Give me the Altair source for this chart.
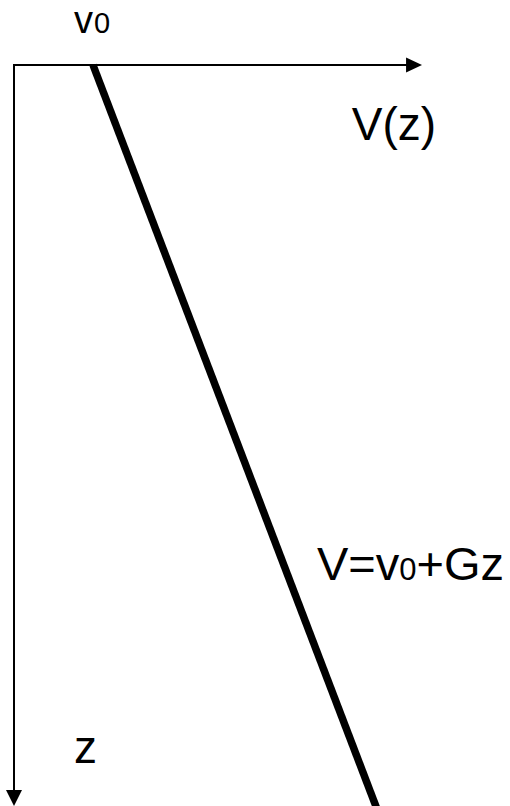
import altair as alt
import pandas as pd

# Linear velocity-depth model: V(z) = v0 + G*z
v0 = [1.0]
gradient = [0.358]
z_line = [0.0, 10.3]      # depth range of the gradient line
v_axis_end = [5.165]      # length of the velocity (V) axis
z_axis_end = [10.0]       # length of the depth (z) axis
z_formula = [7.0]         # depth at which the formula is written

# Canvas layout in pixels
W, H = 510, 806
ORIGIN_X, ORIGIN_Y = 14, 65
PX_PER_V, PX_PER_Z = 79.0, 74.1
ARROW_PX = 16
FONT = "Liberation Sans"

x_scale = alt.Scale(domain=[-ORIGIN_X / PX_PER_V, (W - ORIGIN_X) / PX_PER_V],
                    range=[0, W], nice=False, zero=False)
z_scale = alt.Scale(domain=[-ORIGIN_Y / PX_PER_Z, (H - ORIGIN_Y) / PX_PER_Z],
                    range=[0, H], nice=False, zero=False)

def X(field="V"):
    return alt.X(f"{field}:Q", scale=x_scale, axis=None)

def Z(field="z"):
    return alt.Y(f"{field}:Q", scale=z_scale, axis=None)

# Gradient line
line_df = pd.DataFrame({"z": z_line})
line_df["V"] = v0[0] + gradient[0] * line_df["z"]
line = alt.Chart(line_df).mark_line(
    color="black", strokeWidth=7.5, strokeCap="butt", clip=True
).encode(x=X(), y=Z())

# Coordinate axes (shafts stop at the arrowhead bases)
axes_df = pd.DataFrame({
    "V": [0.0, 0.0],
    "V2": [v_axis_end[0] - ARROW_PX / PX_PER_V, 0.0],
    "z": [0.0, 0.0],
    "z2": [0.0, z_axis_end[0] - ARROW_PX / PX_PER_Z],
})
axes = alt.Chart(axes_df).mark_rule(
    color="black", strokeWidth=2, strokeCap="square"
).encode(x=X(), x2="V2:Q", y=Z(), y2="z2:Q")

# Arrowheads, tips at the axis ends
right_tip = alt.Chart(pd.DataFrame({"V": v_axis_end, "z": [0.0]})).mark_point(
    shape="M0,0L-1,-0.47L-1,0.47Z", size=(2 * ARROW_PX) ** 2,
    filled=True, color="black", opacity=1, strokeWidth=0
).encode(x=X(), y=Z())
down_tip = alt.Chart(pd.DataFrame({"V": [0.0], "z": z_axis_end})).mark_point(
    shape="M0,0L-0.5,-1L0.5,-1Z", size=(2 * ARROW_PX) ** 2,
    filled=True, color="black", opacity=1, strokeWidth=0
).encode(x=X(), y=Z())

def label(df, text, size, align="left", dx=0, dy=0):
    return alt.Chart(df).mark_text(
        text=text, font=FONT, fontSize=size, color="black",
        align=align, baseline="alphabetic", dx=dx, dy=dy
    ).encode(x=X(), y=Z())

# "v0" above the intercept
top_df = pd.DataFrame({"V": v0, "z": [0.0]})
v0_v = label(top_df, "v", 38, align="right", dx=0, dy=-32)
v0_0 = label(top_df, "0", 29, align="left", dx=1, dy=-32)

# "V(z)" under the velocity axis arrow
vz_df = pd.DataFrame({"V": v_axis_end, "z": [0.0]})
vz = label(vz_df, "V(z)", 46, align="right", dx=14, dy=75)

# Formula beside the gradient line
FS, FS_SUB = 47, 31
f_df = pd.DataFrame({"z": z_formula})
f_df["V"] = v0[0] + gradient[0] * f_df["z"]
w1 = (0.667 + 0.584 + 0.5) * FS
w2 = 0.556 * FS_SUB
f1 = label(f_df, "V=v", FS, dx=26, dy=-4)
f2 = label(f_df, "0", FS_SUB, dx=26 + w1, dy=-4)
f3 = label(f_df, "+Gz", FS, dx=26 + w1 + w2, dy=-4)

# "z" beside the depth axis
z_df = pd.DataFrame({"V": [0.0], "z": z_axis_end})
zl = label(z_df, "z", 46, dx=60, dy=-43)

chart = alt.layer(
    axes, right_tip, down_tip, line, v0_v, v0_0, vz, f1, f2, f3, zl
).properties(
    width=W, height=H, padding=0, autosize=alt.AutoSizeParams(type="none"),
    background="white"
).configure_view(stroke=None)

chart.save("out.html", embed_options={"renderer": "svg", "actions": False})
